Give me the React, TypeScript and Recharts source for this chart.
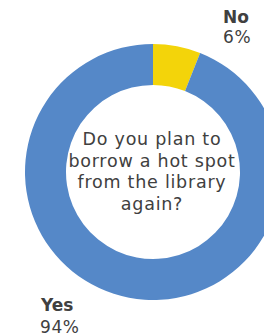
import React from 'react';
import { PieChart, Pie, Cell } from 'recharts';

const categories = ['No', 'Yes'];
const values = [6, 94];
const colors = ['#F3D40A', '#5588C8'];
const centerLines = ['Do you plan to', 'borrow a hot spot', 'from the library', 'again?'];

const data = categories.map((name, i) => ({ name, value: values[i] }));

const FONT = 'Verdana, "DejaVu Sans", sans-serif';
const TXT = '#404040';

const renderLabel = (props: any) => {
  const { cx, cy, index, percent, name } = props;
  const pct = Math.round(percent * 100) + '%';
  if (index === 0) {
    return (
      <g>
        <text x={cx + 70} y={cy - 149} textAnchor="start" fontFamily={FONT} fontSize={17} fontWeight="bold" fill={TXT}>{name}</text>
        <text x={cx + 70} y={cy - 129} textAnchor="start" fontFamily={FONT} fontSize={17} letterSpacing={0.6} fill={TXT}>{pct}</text>
      </g>
    );
  }
  return (
    <g>
      <text x={cx - 112} y={cy + 139} textAnchor="start" fontFamily={FONT} fontSize={17} fontWeight="bold" fill={TXT}>{name}</text>
      <text x={cx - 113} y={cy + 161} textAnchor="start" fontFamily={FONT} fontSize={17} letterSpacing={0.6} fill={TXT}>{pct}</text>
      {centerLines.map((l, i) => (
        <text key={i} x={cx - 1} y={cy - 27 + i * 21.5} textAnchor="middle" fontFamily={FONT} fontSize={17.5} letterSpacing={0.75} fill={TXT}>{l}</text>
      ))}
    </g>
  );
};

export default function App() {
  return (
    <div style={{ position: 'absolute', left: 0, top: 0, width: 264, height: 335, background: '#fff' }}>
      <PieChart width={264} height={335} margin={{ top: 0, right: 0, bottom: 0, left: 0 }}>
        <Pie
          data={data}
          dataKey="value"
          nameKey="name"
          cx={153}
          cy={172}
          innerRadius={87}
          outerRadius={128}
          startAngle={90}
          endAngle={-270}
          stroke="none"
          label={renderLabel}
          labelLine={false}
          isAnimationActive={false}
        >
          {data.map((d, i) => (
            <Cell key={d.name} fill={colors[i]} />
          ))}
        </Pie>
      </PieChart>
    </div>
  );
}
